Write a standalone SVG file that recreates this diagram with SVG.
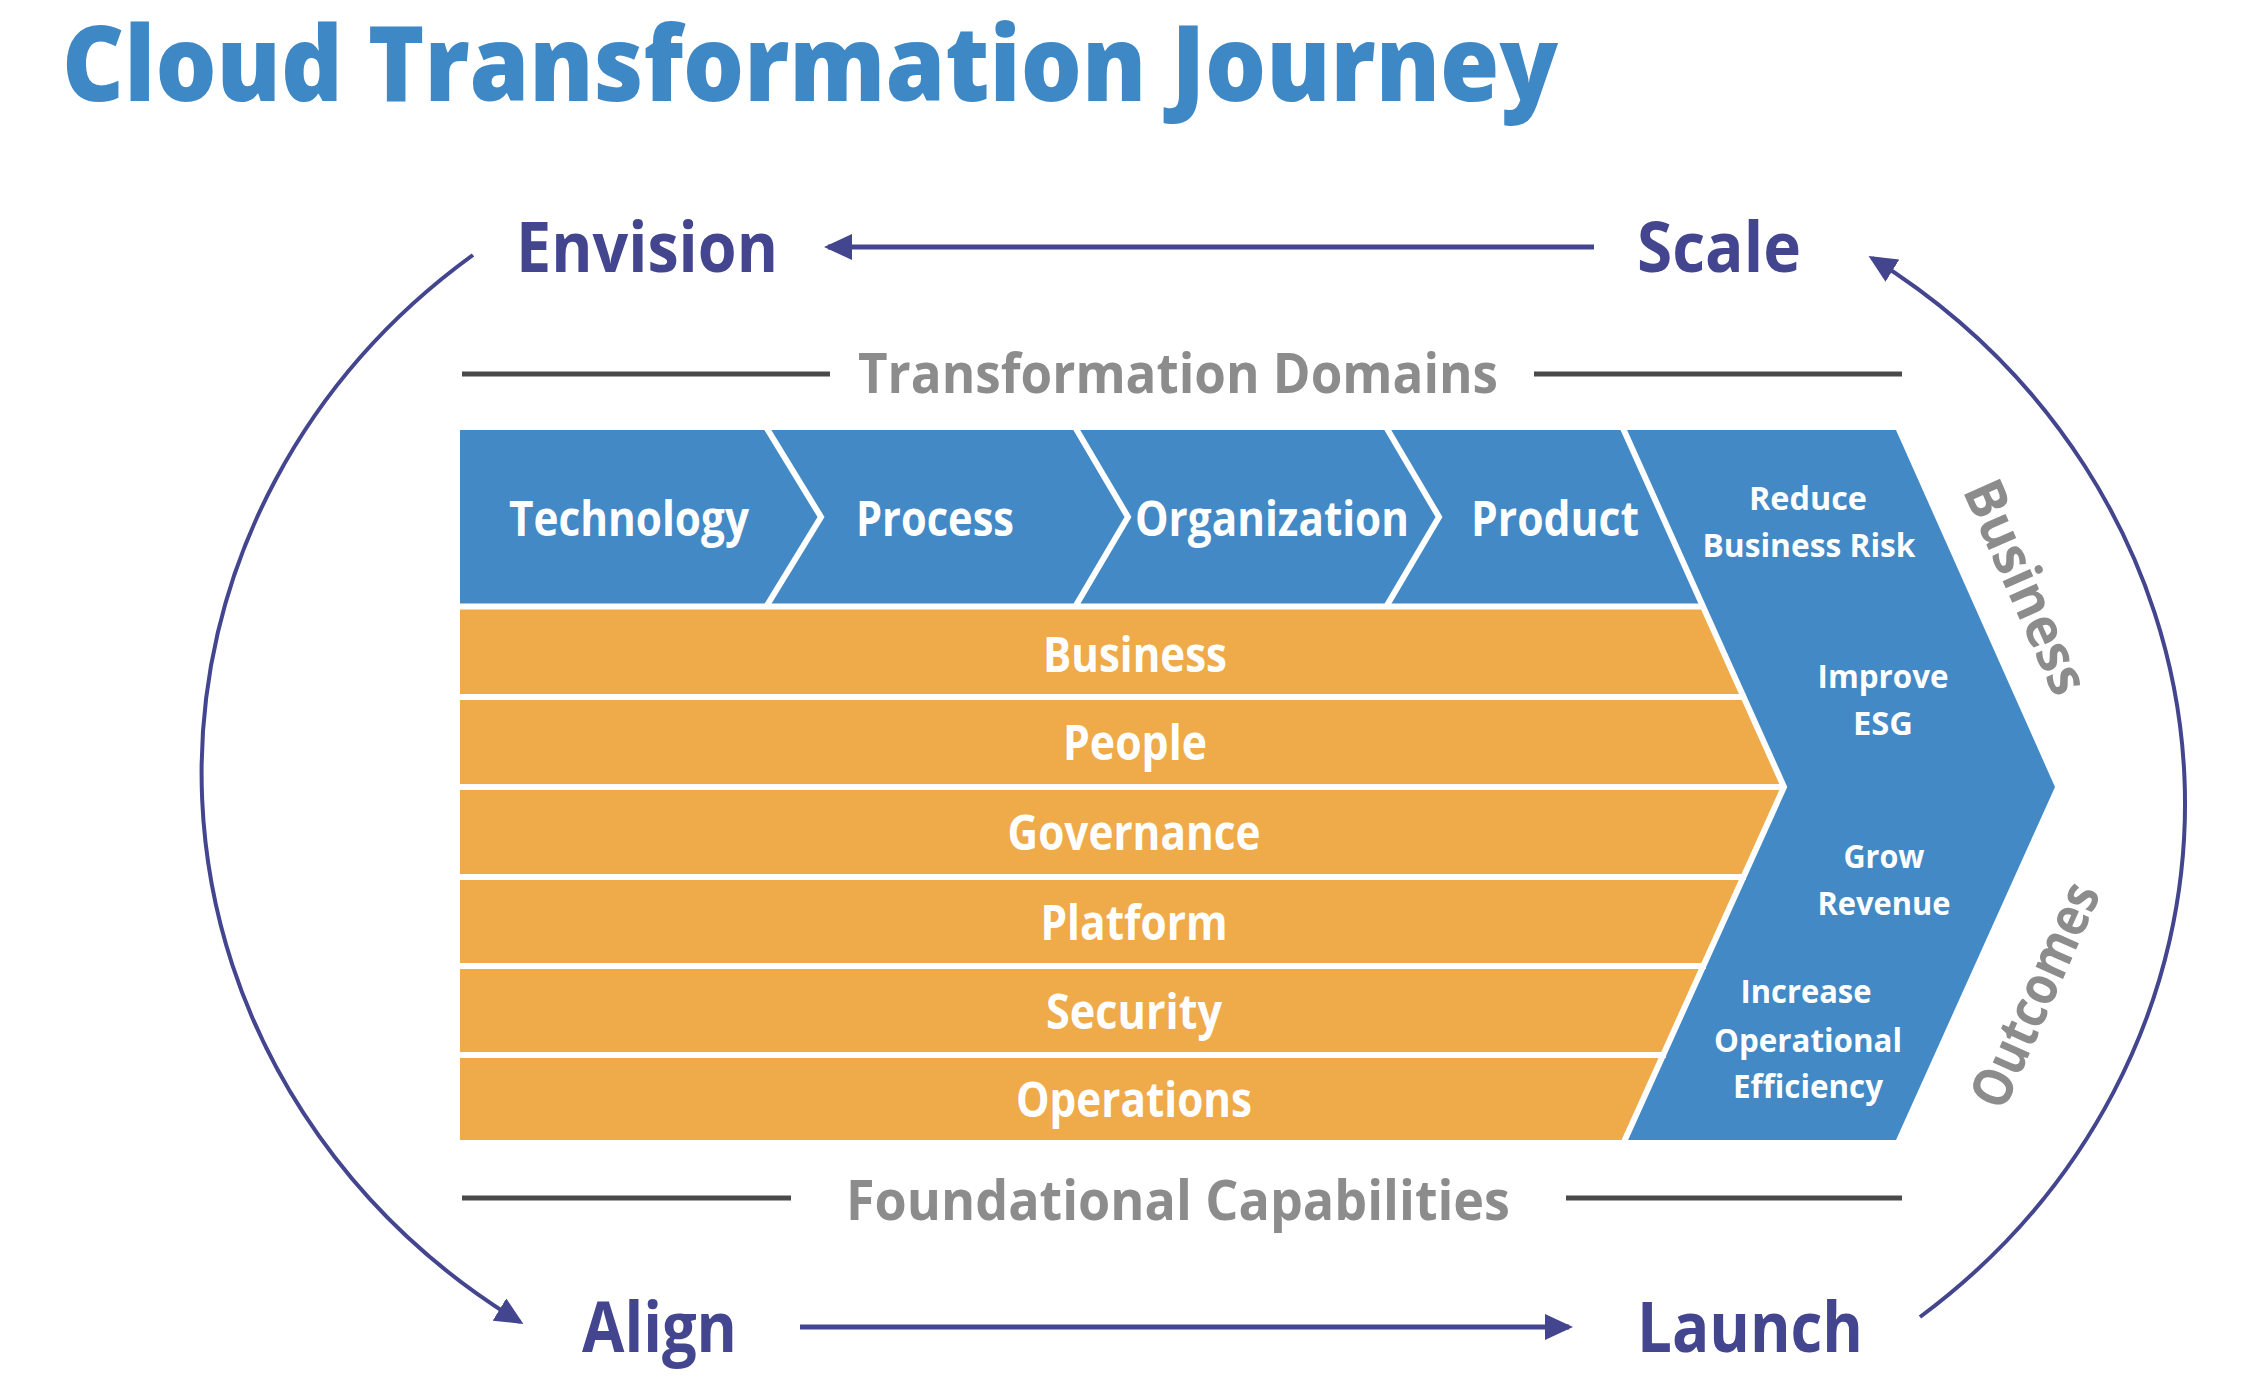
<svg xmlns="http://www.w3.org/2000/svg" width="2256" height="1391" viewBox="0 0 2256 1391">
<defs>
<style>
text{font-family:"Open Sans","Liberation Sans",sans-serif;font-weight:700;}
.title{font-size:104px;fill:#3E88C6;font-weight:800;}
.phase{font-size:70px;fill:#44458F;font-weight:700;}
.gray{font-size:56px;fill:#8C8C8C;font-weight:700;}
.band{font-size:49px;fill:#FFFFFF;font-weight:700;text-anchor:middle;}
.row{font-size:49px;fill:#FFFFFF;font-weight:700;text-anchor:middle;}
.out{font-size:33px;fill:#FFFFFF;font-weight:700;text-anchor:middle;}
.rot{font-size:55px;fill:#8C8C8C;font-weight:700;text-anchor:middle;}
.sep{stroke:#FFFFFF;stroke-width:6;fill:none;}
.rule{stroke:#4A4A4A;stroke-width:5;}
.conn{stroke:#44458F;fill:none;}
</style>
<marker id="ah" markerUnits="userSpaceOnUse" markerWidth="28" markerHeight="26" refX="24" refY="13" orient="auto">
<path d="M0,0 L28,13 L0,26 z" fill="#44458F"/>
</marker>
</defs>
<rect width="2256" height="1391" fill="#FFFFFF"/>

<g id="title">
<text class="title" x="62" y="101" textLength="1496" lengthAdjust="spacingAndGlyphs">Cloud Transformation Journey</text>
</g>

<g id="connectors">
<path class="conn" stroke-width="5" d="M1594,247 L828,247" marker-end="url(#ah)"/>
<path class="conn" stroke-width="5" d="M800,1327 L1569,1327" marker-end="url(#ah)"/>
<path class="conn" stroke-width="4" d="M473,255 A700,655 0 0 0 520,1322" marker-end="url(#ah)"/>
<path class="conn" stroke-width="4" d="M1920,1317 A700,655 0 0 0 1872,258" marker-end="url(#ah)"/>
</g>

<g id="envision"><text class="phase" x="516" y="272" textLength="262" lengthAdjust="spacingAndGlyphs">Envision</text></g>
<g id="scale"><text class="phase" x="1637" y="272" textLength="164" lengthAdjust="spacingAndGlyphs">Scale</text></g>
<g id="align"><text class="phase" x="582" y="1352" textLength="155" lengthAdjust="spacingAndGlyphs">Align</text></g>
<g id="launch"><text class="phase" x="1637" y="1352" textLength="226" lengthAdjust="spacingAndGlyphs">Launch</text></g>

<g id="transformation-domains">
<line class="rule" x1="462" y1="374" x2="830" y2="374"/>
<line class="rule" x1="1534" y1="374" x2="1902" y2="374"/>
<text class="gray" x="858" y="393" textLength="640" lengthAdjust="spacingAndGlyphs">Transformation Domains</text>
</g>

<g id="foundational-capabilities">
<line class="rule" x1="462" y1="1198" x2="791" y2="1198"/>
<line class="rule" x1="1566" y1="1198" x2="1902" y2="1198"/>
<text class="gray" x="846" y="1220" textLength="664" lengthAdjust="spacingAndGlyphs">Foundational Capabilities</text>
</g>

<g id="shapes">
<polygon points="460,430 1624,430 1702,604 460,604" fill="#4289C6"/>
<polygon points="460,604 1702,604 1784,787 1625,1140 460,1140" fill="#EFAA4A"/>
<polygon points="1624,430 1896,430 2055,787 1896,1140 1625,1140 1784,787" fill="#4289C6"/>
<polyline class="sep" points="766,427 821,517 766,607"/>
<polyline class="sep" points="1075,427 1128,517 1075,607"/>
<polyline class="sep" points="1386,427 1439,517 1386,607"/>
<line class="sep" stroke-width="5" x1="455" y1="606.5" x2="1705" y2="606.5"/>
<line class="sep" stroke-width="5" x1="455" y1="697" x2="1746" y2="697"/>
<line class="sep" stroke-width="5" x1="455" y1="787" x2="1786" y2="787"/>
<line class="sep" stroke-width="5" x1="455" y1="877" x2="1746" y2="877"/>
<line class="sep" stroke-width="5" x1="455" y1="966" x2="1706" y2="966"/>
<line class="sep" stroke-width="5" x1="455" y1="1055" x2="1666" y2="1055"/>
<polyline class="sep" stroke-width="7" points="1622,426 1784,787 1623,1144"/>
</g>

<g id="technology"><text class="band" x="629" y="536" textLength="240" lengthAdjust="spacingAndGlyphs">Technology</text></g>
<g id="process"><text class="band" x="935" y="536" textLength="158" lengthAdjust="spacingAndGlyphs">Process</text></g>
<g id="organization"><text class="band" x="1272" y="536" textLength="274" lengthAdjust="spacingAndGlyphs">Organization</text></g>
<g id="product"><text class="band" x="1555" y="536" textLength="168" lengthAdjust="spacingAndGlyphs">Product</text></g>

<g id="business"><text class="row" x="1135" y="672" textLength="184" lengthAdjust="spacingAndGlyphs">Business</text></g>
<g id="people"><text class="row" x="1135" y="760" textLength="144" lengthAdjust="spacingAndGlyphs">People</text></g>
<g id="governance"><text class="row" x="1134" y="850" textLength="253" lengthAdjust="spacingAndGlyphs">Governance</text></g>
<g id="platform"><text class="row" x="1134" y="940" textLength="187" lengthAdjust="spacingAndGlyphs">Platform</text></g>
<g id="security"><text class="row" x="1134" y="1029" textLength="176" lengthAdjust="spacingAndGlyphs">Security</text></g>
<g id="operations"><text class="row" x="1134" y="1117" textLength="236" lengthAdjust="spacingAndGlyphs">Operations</text></g>

<g id="reduce-business-risk">
<text class="out" x="1808" y="510" textLength="118" lengthAdjust="spacingAndGlyphs">Reduce</text>
<text class="out" x="1809" y="557" textLength="213" lengthAdjust="spacingAndGlyphs">Business Risk</text>
</g>
<g id="improve-esg">
<text class="out" x="1883" y="688" textLength="131" lengthAdjust="spacingAndGlyphs">Improve</text>
<text class="out" x="1883" y="735" textLength="60" lengthAdjust="spacingAndGlyphs">ESG</text>
</g>
<g id="grow-revenue">
<text class="out" x="1884" y="868" textLength="81" lengthAdjust="spacingAndGlyphs">Grow</text>
<text class="out" x="1884" y="915" textLength="133" lengthAdjust="spacingAndGlyphs">Revenue</text>
</g>
<g id="increase-operational-efficiency">
<text class="out" x="1806" y="1003" textLength="131" lengthAdjust="spacingAndGlyphs">Increase</text>
<text class="out" x="1808" y="1052" textLength="188" lengthAdjust="spacingAndGlyphs">Operational</text>
<text class="out" x="1808" y="1098" textLength="150" lengthAdjust="spacingAndGlyphs">Efficiency</text>
</g>

<g id="business-outcomes">
<text class="rot" transform="translate(2026,587) rotate(66)" x="0" y="19" textLength="228" lengthAdjust="spacingAndGlyphs">Business</text>
<text class="rot" transform="translate(2035,995) rotate(-66)" x="0" y="19" textLength="240" lengthAdjust="spacingAndGlyphs">Outcomes</text>
</g>
</svg>
